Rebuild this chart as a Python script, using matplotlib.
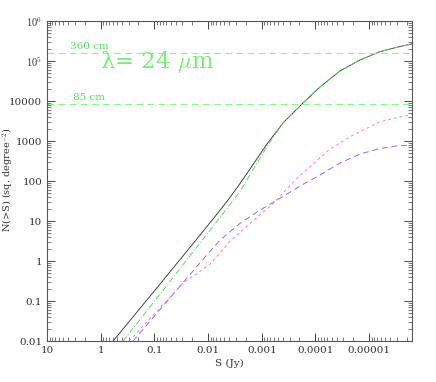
import numpy as np
import matplotlib
matplotlib.use('Agg')
import matplotlib.pyplot as plt
from matplotlib.ticker import FixedLocator, LogLocator, NullFormatter

plt.rcParams['font.family'] = ['DejaVu Serif']
plt.rcParams['mathtext.fontset'] = 'cm'

# log10 S (Jy), log10 N(>S)
tot_logS = [-0.229, -1.104, -1.849, -2.203, -2.371, -2.575, -2.780, -3.097,
            -3.395, -3.749, -4.084, -4.456, -4.829, -5.201, -5.499, -5.760, -5.797]
tot_logN = [-2.0, -0.575, 0.65, 1.2375, 1.525, 1.9, 2.3, 2.925,
            3.45, 3.925, 4.35, 4.75, 5.025, 5.2325, 5.3375, 5.4175, 5.425]

grn_logS = [-0.415, -1.104, -1.849, -2.575, -2.780, -2.966, -3.153,
            -3.395, -3.749, -4.084, -4.456, -4.829, -5.201, -5.499, -5.760, -5.797]
grn_logN = [-2.0, -0.825, 0.45, 1.7, 2.15, 2.575, 2.975,
            3.45, 3.925, 4.35, 4.75, 5.025, 5.2325, 5.3375, 5.4175, 5.425]

blu_logS = [-0.601, -1.849, -2.222, -2.594, -2.966, -3.339, -3.711,
            -4.084, -4.456, -4.829, -5.201, -5.499, -5.760, -5.797]
blu_logN = [-2.0, -0.0425, 0.525, 0.9425, 1.275, 1.5675, 1.875,
            2.15, 2.45, 2.675, 2.8125, 2.875, 2.9, 2.9]

mag_logS = [-0.527, -1.533, -1.793, -2.035, -2.222, -2.408, -2.780, -3.209,
            -3.655, -4.251, -4.642, -5.201, -5.499, -5.760, -5.797]
mag_logN = [-2.0, -0.55, -0.3125, -0.075, 0.2, 0.5, 0.9375, 1.4375,
            2.0675, 2.775, 3.1075, 3.4825, 3.58, 3.65, 3.66]

lines_N = [1.55e5, 8300]
lines_lab = ['360 cm', '85 cm']
lab_N = [1.95e5, 1.06e4]
lab_S = [3.7, 3.3]

xticks = [10, 1, 0.1, 0.01, 0.001, 0.0001, 0.00001]
xlabels = ['10', '1', '0.1', '0.01', '0.001', '0.0001', '0.00001']
yticks = [0.01, 0.1, 1, 10, 100, 1000, 10000, 1e5, 1e6]
ylabels = ['0.01', '0.1', '1', '10', '100', '1000', '10000', r'$10^5$', r'$10^6$']

fig = plt.figure(figsize=(4.36, 3.82), dpi=100)
ax = fig.add_axes([0.108, 0.107, 0.837, 0.838])

lgreen = '#88f888'
def p(ls, ln):
    return 10 ** np.array(ls), 10 ** np.array(ln)

ax.plot(*p(tot_logS, tot_logN), color='#444444', lw=0.7, ls='-')
ax.plot(*p(grn_logS, grn_logN), color='#55dd55', lw=0.7, ls=(0, (6, 2, 1, 2)))
ax.plot(*p(blu_logS, blu_logN), color='#7373ff', lw=0.7, ls=(0, (6, 4)))
ax.plot(*p(mag_logS, mag_logN), color='#ff73ff', lw=0.7, ls=(0, (3, 3)))

for n in lines_N:
    ax.axhline(n, color=lgreen, lw=0.8, ls=(0, (6, 4)))

for s, n, lab in zip(lab_S, lab_N, lines_lab):
    ax.text(s, n, lab, color='#55e055', fontsize=7.5, va='baseline')
ax.text(1.03, 9.3e4, 'λ= 24 $\\mu$m', color='#77ef77', fontsize=16.5,
        va='center')

ax.set_xscale('log')
ax.set_yscale('log')
ax.set_xlim(10, 10 ** -5.8)
ax.set_ylim(0.01, 1e6)

ax.xaxis.set_major_locator(FixedLocator(xticks))
ax.set_xticklabels(xlabels)
ax.yaxis.set_major_locator(FixedLocator(yticks))
ax.set_yticklabels(ylabels)
ax.xaxis.set_minor_locator(LogLocator(base=10, subs=np.arange(2, 10), numticks=20))
ax.yaxis.set_minor_locator(LogLocator(base=10, subs=np.arange(2, 10), numticks=20))
ax.xaxis.set_minor_formatter(NullFormatter())
ax.yaxis.set_minor_formatter(NullFormatter())

ax.tick_params(which='both', direction='in', top=True, right=True,
               colors='#444444', labelcolor='#333333', labelsize=7.5)
ax.tick_params(which='major', length=6, width=0.7)
ax.tick_params(which='minor', length=3, width=0.5)
for sp in ax.spines.values():
    sp.set_color('#555555')
    sp.set_linewidth(0.8)

ax.set_xlabel('S (Jy)', fontsize=7.5, color='#333333')
ax.set_ylabel(r'N(>S) (sq. degree$^{-2}$)', fontsize=7, color='#333333')
ax.xaxis.set_label_coords(0.499, -0.056)
ax.yaxis.set_label_coords(-0.086, 0.503)

fig.savefig('out.png', dpi=100)
